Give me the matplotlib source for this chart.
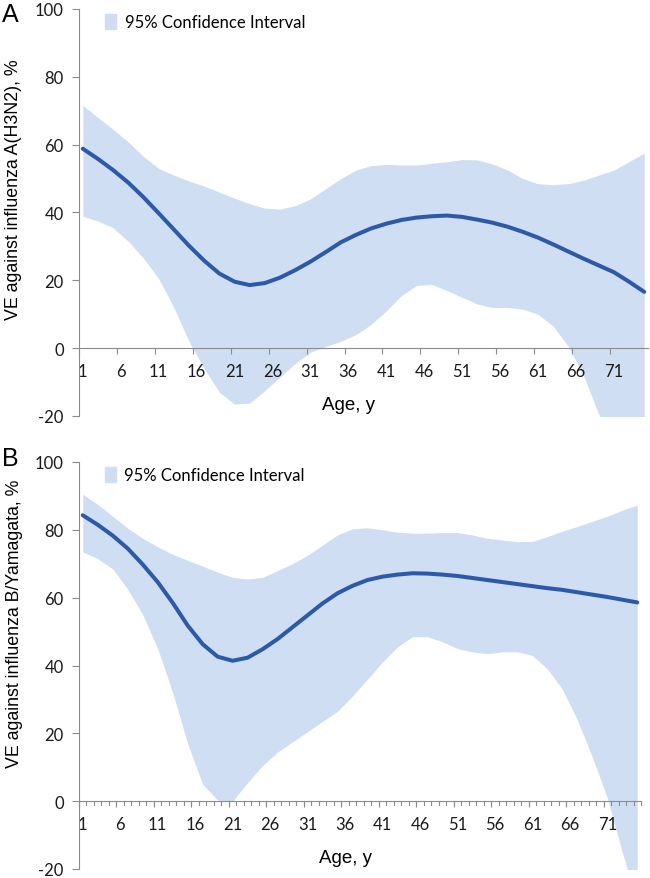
import numpy as np
import matplotlib.pyplot as plt
from matplotlib.patches import Patch

# ages (odd years, category axis 1..75)
ages = list(range(1, 76, 2))

h3n2_ve = [58.8, 55.8, 52.5, 48.8, 44.5, 39.8, 35.0, 30.2, 25.8, 22.0,
           19.6, 18.6, 19.2, 20.8, 23.0, 25.5, 28.3, 31.2, 33.4, 35.3,
           36.7, 37.8, 38.5, 38.9, 39.1, 38.7, 37.9, 37.0, 35.8, 34.3,
           32.6, 30.6, 28.5, 26.4, 24.4, 22.4, 19.6, 16.6]
h3n2_hi = [71.6, 68.0, 64.5, 60.8, 56.5, 53.0, 51.0, 49.3, 47.8, 46.0,
           44.2, 42.6, 41.3, 41.0, 42.0, 44.0, 47.0, 50.0, 52.5, 53.8,
           54.2, 54.0, 54.0, 54.5, 55.0, 55.6, 55.5, 54.3, 52.5, 50.0,
           48.5, 48.2, 48.5, 49.5, 51.0, 52.5, 55.0, 57.5]
h3n2_lo = [38.9, 37.5, 35.5, 31.5, 26.5, 20.5, 12.0, 2.0, -6.0, -13.0,
           -16.5, -16.2, -12.5, -8.5, -4.5, -1.2, 0.5, 2.0, 4.0, 7.0,
           11.0, 15.5, 18.5, 18.8, 17.0, 15.0, 13.0, 12.0, 12.0, 11.5,
           10.0, 6.5, 0.5, -8.0, -19.5, -26.0, -35.0, -45.0]

byam_ve = [84.3, 81.5, 78.3, 74.5, 69.8, 64.6, 58.5, 51.8, 46.3, 42.6,
           41.4, 42.3, 44.8, 47.8, 51.3, 54.8, 58.3, 61.3, 63.5, 65.2,
           66.2, 66.8, 67.2, 67.1, 66.8, 66.4, 65.8, 65.2, 64.6, 64.0,
           63.4, 62.8, 62.3, 61.6, 60.9, 60.2, 59.4, 58.6]
byam_hi = [90.5, 87.5, 84.0, 80.5, 77.5, 75.0, 72.8, 71.0, 69.3, 67.5,
           66.0, 65.5, 66.0, 68.0, 70.0, 72.5, 75.5, 78.5, 80.3, 80.6,
           80.0, 79.3, 79.0, 79.0, 79.2, 79.2, 78.5, 77.5, 77.0, 76.5,
           76.6, 78.0, 79.6, 81.0, 82.5, 84.0, 85.8, 87.3]
byam_lo = [73.5, 71.5, 68.5, 62.5, 55.0, 45.0, 32.0, 17.0, 5.0, 0.3,
           0.0, 5.5, 10.5, 14.5, 17.5, 20.5, 23.5, 26.5, 31.0, 36.0,
           41.0, 45.5, 48.5, 48.5, 47.0, 45.0, 44.0, 43.5, 44.0, 44.0,
           43.0, 39.0, 33.0, 24.0, 13.0, 1.0, -15.0, -30.0]

xtick_labels = list(range(1, 72, 5))
yticks = [-20, 0, 20, 40, 60, 80, 100]

fill_col = '#cfdef2'
line_col = '#2c5aa8'
axis_col = '#8c8c8c'
num_font = ['Lato', 'DejaVu Sans']
lab_font = ['Liberation Sans', 'DejaVu Sans']

fig = plt.figure(figsize=(6.5, 8.79), dpi=100)
axA = fig.add_axes([79 / 650, 1 - 417 / 879, (648 - 79) / 650, 407 / 879])
axB = fig.add_axes([79 / 650, 1 - 870 / 879, (641 - 79) / 650, 407 / 879])


def draw_panel(ax, ve, lo, hi, ylabel, ylab_pos, letter, letter_y, minor_ticks):
    ax.fill_between(ages, lo, hi, color=fill_col, linewidth=0, zorder=1)
    ax.plot(ages, ve, color=line_col, linewidth=2.9, solid_capstyle='round', zorder=3)
    ax.set_xlim(0.5, 75.5)
    ax.set_ylim(-20, 100)

    for s in ['top', 'right']:
        ax.spines[s].set_visible(False)
    ax.spines['bottom'].set_position(('data', 0))
    ax.spines['bottom'].set_color(axis_col)
    ax.spines['left'].set_color(axis_col)
    ax.spines['left'].set_zorder(4)
    ax.spines['bottom'].set_zorder(4)

    ax.set_yticks(yticks)
    ax.set_yticklabels([str(v) for v in yticks], fontfamily=num_font, fontsize=12)
    ax.tick_params(axis='y', length=5, width=0.8, color=axis_col, pad=6, labelcolor='#1a1a1a')

    # tick marks at category boundaries, labels at category centres
    ax.set_xticks([v - 0.5 for v in range(1, 76, 5)])
    ax.set_xticklabels([])
    ax.tick_params(axis='x', which='major', length=4, width=0.8, color=axis_col)
    ax.set_xticks(xtick_labels, minor=True)
    ax.set_xticklabels([str(v) for v in xtick_labels], minor=True,
                       fontfamily=num_font, fontsize=12)
    ax.tick_params(axis='x', which='minor', length=0, pad=10.5, labelcolor='#1a1a1a')
    if minor_ticks:
        for v in range(1, 77):
            ax.plot([v - 0.5, v - 0.5], [0, -1.1], color=axis_col, lw=0.8,
                    clip_on=False, zorder=4)

    ax.set_ylabel(ylabel, fontfamily=lab_font, fontsize=12.8)
    ax.yaxis.set_label_coords(-0.1, ylab_pos)
    ax.text(36, -16.5, 'Age, y', fontfamily=lab_font, fontsize=13.5,
            ha='center', va='center')
    fig.text(0.003, letter_y, letter, fontfamily=lab_font, fontsize=18,
             ha='left', va='center')

    ax.legend(handles=[Patch(color=fill_col, label='95% Confidence Interval')],
              loc='upper left', bbox_to_anchor=(0.02, 1.025), frameon=False,
              handlelength=0.65, handleheight=1.05, handletextpad=0.5,
              prop={'family': num_font, 'size': 12})


draw_panel(axA, h3n2_ve, h3n2_lo, h3n2_hi, 'VE against influenza A(H3N2), %',
           0.558, 'A', 1 - 15 / 879, False)
draw_panel(axB, byam_ve, byam_lo, byam_hi, 'VE against influenza B/Yamagata, %',
           0.604, 'B', 1 - 459 / 879, True)

fig.savefig('out.png', dpi=100)
